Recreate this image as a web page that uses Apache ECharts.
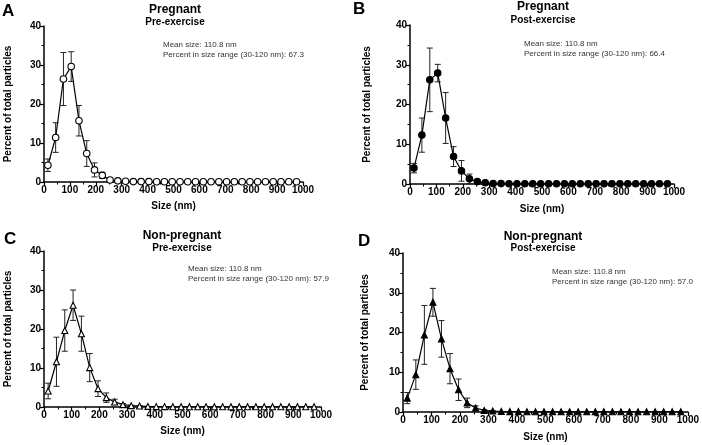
<!DOCTYPE html>
<html>
<head>
<meta charset="utf-8">
<script src="https://cdn.jsdelivr.net/npm/echarts@6/dist/echarts.min.js"></script>
<style>
html,body{margin:0;padding:0;background:#fff;}
#chart{width:702px;height:445px;}
</style>
</head>
<body>
<div id="chart"></div>
<script>
// ---- data ----
const sizes = [15,45,75,105,135,165,195,225,255,285,315,345,375,405,435,465,495,525,555,585,615,645,675,705,735,765,795,825,855,885,915,945,975];

const pregPreMean  = [4.3,11.4,26.4,29.6,15.7,7.3,3.1,1.7,0.5,0.3,0.2,0.1,0.1,0.1,0.05,0.05,0.05,0.05,0.05,0.05,0.05,0.05,0.05,0.05,0.05,0.05,0.05,0.05,0.05,0.05,0.05,0.05,0.05];
const pregPreSD    = [1.6,3.8,6.8,3.8,3.9,3.3,1.8,0.8,0.3,0.1,0,0,0,0,0,0,0,0,0,0,0,0,0,0,0,0,0,0,0,0,0,0,0];

const pregPostMean = [4.0,12.3,26.2,27.9,16.6,6.9,3.3,1.3,0.6,0.3,0.1,0.1,0.05,0.05,0.05,0.05,0.05,0.05,0.05,0.05,0.05,0.05,0.05,0.05,0.05,0.05,0.05,0.05,0.05,0.05,0.05,0.05,0.05];
const pregPostSD   = [1.2,4.3,8.0,2.2,6.4,2.5,2.6,1.2,0.4,0.1,0,0,0,0,0,0,0,0,0,0,0,0,0,0,0,0,0,0,0,0,0,0,0];

const nonPreMean   = [4.1,11.6,19.6,26.1,18.8,10.1,4.7,2.4,1.3,0.6,0.35,0.25,0.15,0.1,0.1,0.05,0.05,0.05,0.05,0.05,0.05,0.05,0.05,0.05,0.05,0.05,0.05,0.05,0.05,0.05,0.05,0.05,0.05];
const nonPreSD     = [2.0,6.3,5.3,3.9,4.5,3.6,2.0,1.2,0.7,0.3,0.1,0.1,0,0,0,0,0,0,0,0,0,0,0,0,0,0,0,0,0,0,0,0,0];

const nonPostMean  = [3.5,9.4,19.4,27.6,18.4,10.9,5.6,2.3,1.0,0.4,0.25,0.15,0.1,0.1,0.05,0.05,0.05,0.05,0.05,0.05,0.05,0.05,0.05,0.05,0.05,0.05,0.05,0.05,0.05,0.05,0.05,0.05,0.05];
const nonPostSD    = [1.4,3.7,7.4,3.5,4.6,3.8,2.7,1.2,0.55,0.2,0.1,0,0,0,0,0,0,0,0,0,0,0,0,0,0,0,0,0,0,0,0,0,0];

const panelLetters = ['A','B','C','D'];
const titles    = ['Pregnant','Pregnant','Non-pregnant','Non-pregnant'];
const subtitles = ['Pre-exercise','Post-exercise','Pre-exercise','Post-exercise'];
const meanSizes = ['110.8','110.8','110.8','110.8'];
const percents  = ['67.3','66.4','57.9','57.0'];
const xTicks = [0,100,200,300,400,500,600,700,800,900,1000];
const yTicks = [0,10,20,30,40];

// ---- layout ----
const FONT = '"Liberation Sans", Arial, sans-serif';
const panels = [
  {grid:{left:44, top:26, width:259, height:156}, mean:pregPreMean, sd:pregPreSD, symbol:'circle', fill:'#fff', size:6.5,
   letter:[8,12], title:[175,10], sub:[175,22.5], note:[163,50], yGap:31, xGap:19},
  {grid:{left:410, top:25, width:264, height:159}, mean:pregPostMean, sd:pregPostSD, symbol:'circle', fill:'#000', size:6.5,
   letter:[359,10], title:[543,7], sub:[543,20], note:[524,49], yGap:38, xGap:20},
  {grid:{left:44, top:251, width:277, height:156}, mean:nonPreMean, sd:nonPreSD, symbol:'triangle', fill:'#fff', size:6,
   letter:[10,240], title:[182,236], sub:[182,248], note:[188,274], yGap:31, xGap:19},
  {grid:{left:403, top:253, width:288, height:159}, mean:nonPostMean, sd:nonPostSD, symbol:'triangle', fill:'#000', size:6,
   letter:[364,242], title:[543,237], sub:[543,248.5], note:[552,277], yGap:33, xGap:20}
];

const grids = [], xAxes = [], yAxes = [], series = [], graphics = [];
panels.forEach((p, i) => {
  grids.push(Object.assign({containLabel:false}, p.grid));
  xAxes.push({
    gridIndex:i, type:'value', min:xTicks[0], max:xTicks[xTicks.length-1], interval:100,
    name:'Size (nm)', nameLocation:'middle', nameGap:p.xGap,
    nameTextStyle:{fontFamily:FONT, fontWeight:'bold', fontSize:10, color:'#000'},
    axisLine:{lineStyle:{color:'#000', width:1.5}},
    axisTick:{show:true, length:4, lineStyle:{color:'#000', width:1.2}},
    minorTick:{show:true, splitNumber:2, length:2.5, lineStyle:{color:'#000', width:1}},
    axisLabel:{fontFamily:FONT, fontWeight:'bold', fontSize:10, color:'#000', margin:3, formatter:v => String(v)},
    splitLine:{show:false}
  });
  yAxes.push({
    gridIndex:i, type:'value', min:yTicks[0], max:yTicks[yTicks.length-1], interval:10,
    name:'Percent of total particles', nameLocation:'middle', nameGap:p.yGap,
    nameTextStyle:{fontFamily:FONT, fontWeight:'bold', fontSize:10, color:'#000'},
    axisLine:{show:true, lineStyle:{color:'#000', width:1.5}},
    axisTick:{show:true, length:4, lineStyle:{color:'#000', width:1.2}},
    minorTick:{show:true, splitNumber:2, length:2.5, lineStyle:{color:'#000', width:1}},
    axisLabel:{fontFamily:FONT, fontWeight:'bold', fontSize:10, color:'#000', margin:3, formatter:v => String(v)},
    splitLine:{show:false}
  });
  const errData = sizes.map((s, k) => [s, p.mean[k], p.sd[k]]);
  series.push({
    type:'custom', xAxisIndex:i, yAxisIndex:i, z:1, silent:true,
    data: errData,
    renderItem: function(params, api){
      const x = api.value(0), y = api.value(1), e = api.value(2);
      if (!e) return null;
      const top = api.coord([x, y + e]);
      const bot = api.coord([x, Math.max(0, y - e)]);
      const hw = 3;
      const st = {stroke:'#222', lineWidth:1};
      return {type:'group', children:[
        {type:'line', shape:{x1:top[0], y1:top[1], x2:bot[0], y2:bot[1]}, style:st},
        {type:'line', shape:{x1:top[0]-hw, y1:top[1], x2:top[0]+hw, y2:top[1]}, style:st},
        {type:'line', shape:{x1:bot[0]-hw, y1:bot[1], x2:bot[0]+hw, y2:bot[1]}, style:st}
      ]};
    }
  });
  series.push({
    type:'line', xAxisIndex:i, yAxisIndex:i, z:3,
    data: sizes.map((s, k) => [s, p.mean[k]]),
    symbol:p.symbol, symbolSize:p.size, showSymbol:true,
    lineStyle:{color:'#000', width:1.2},
    itemStyle:{color:p.fill, borderColor:'#000', borderWidth:1.1},
    animation:false
  });
  graphics.push({type:'text', left:p.letter[0]-6, top:p.letter[1]-9,
    style:{text:panelLetters[i], font:'bold 17px ' + FONT, fill:'#000'}});
  graphics.push({type:'text', x:p.title[0], y:p.title[1],
    style:{text:titles[i], font:'bold 12px ' + FONT, fill:'#000', textAlign:'center', textVerticalAlign:'middle'}});
  graphics.push({type:'text', x:p.sub[0], y:p.sub[1],
    style:{text:subtitles[i], font:'bold 10px ' + FONT, fill:'#000', textAlign:'center', textVerticalAlign:'middle'}});
  graphics.push({type:'text', x:p.note[0], y:p.note[1],
    style:{text:'Mean size: ' + meanSizes[i] + ' nm\nPercent in size range (30-120 nm): ' + percents[i],
      font:'8px ' + FONT, fill:'#333', lineHeight:10.5, textVerticalAlign:'middle'}});
});

const chart = echarts.init(document.getElementById('chart'), null, {renderer:'canvas'});
chart.setOption({
  animation:false,
  backgroundColor:'#fff',
  grid:grids, xAxis:xAxes, yAxis:yAxes, series:series, graphic:graphics
});
</script>
</body>
</html>
